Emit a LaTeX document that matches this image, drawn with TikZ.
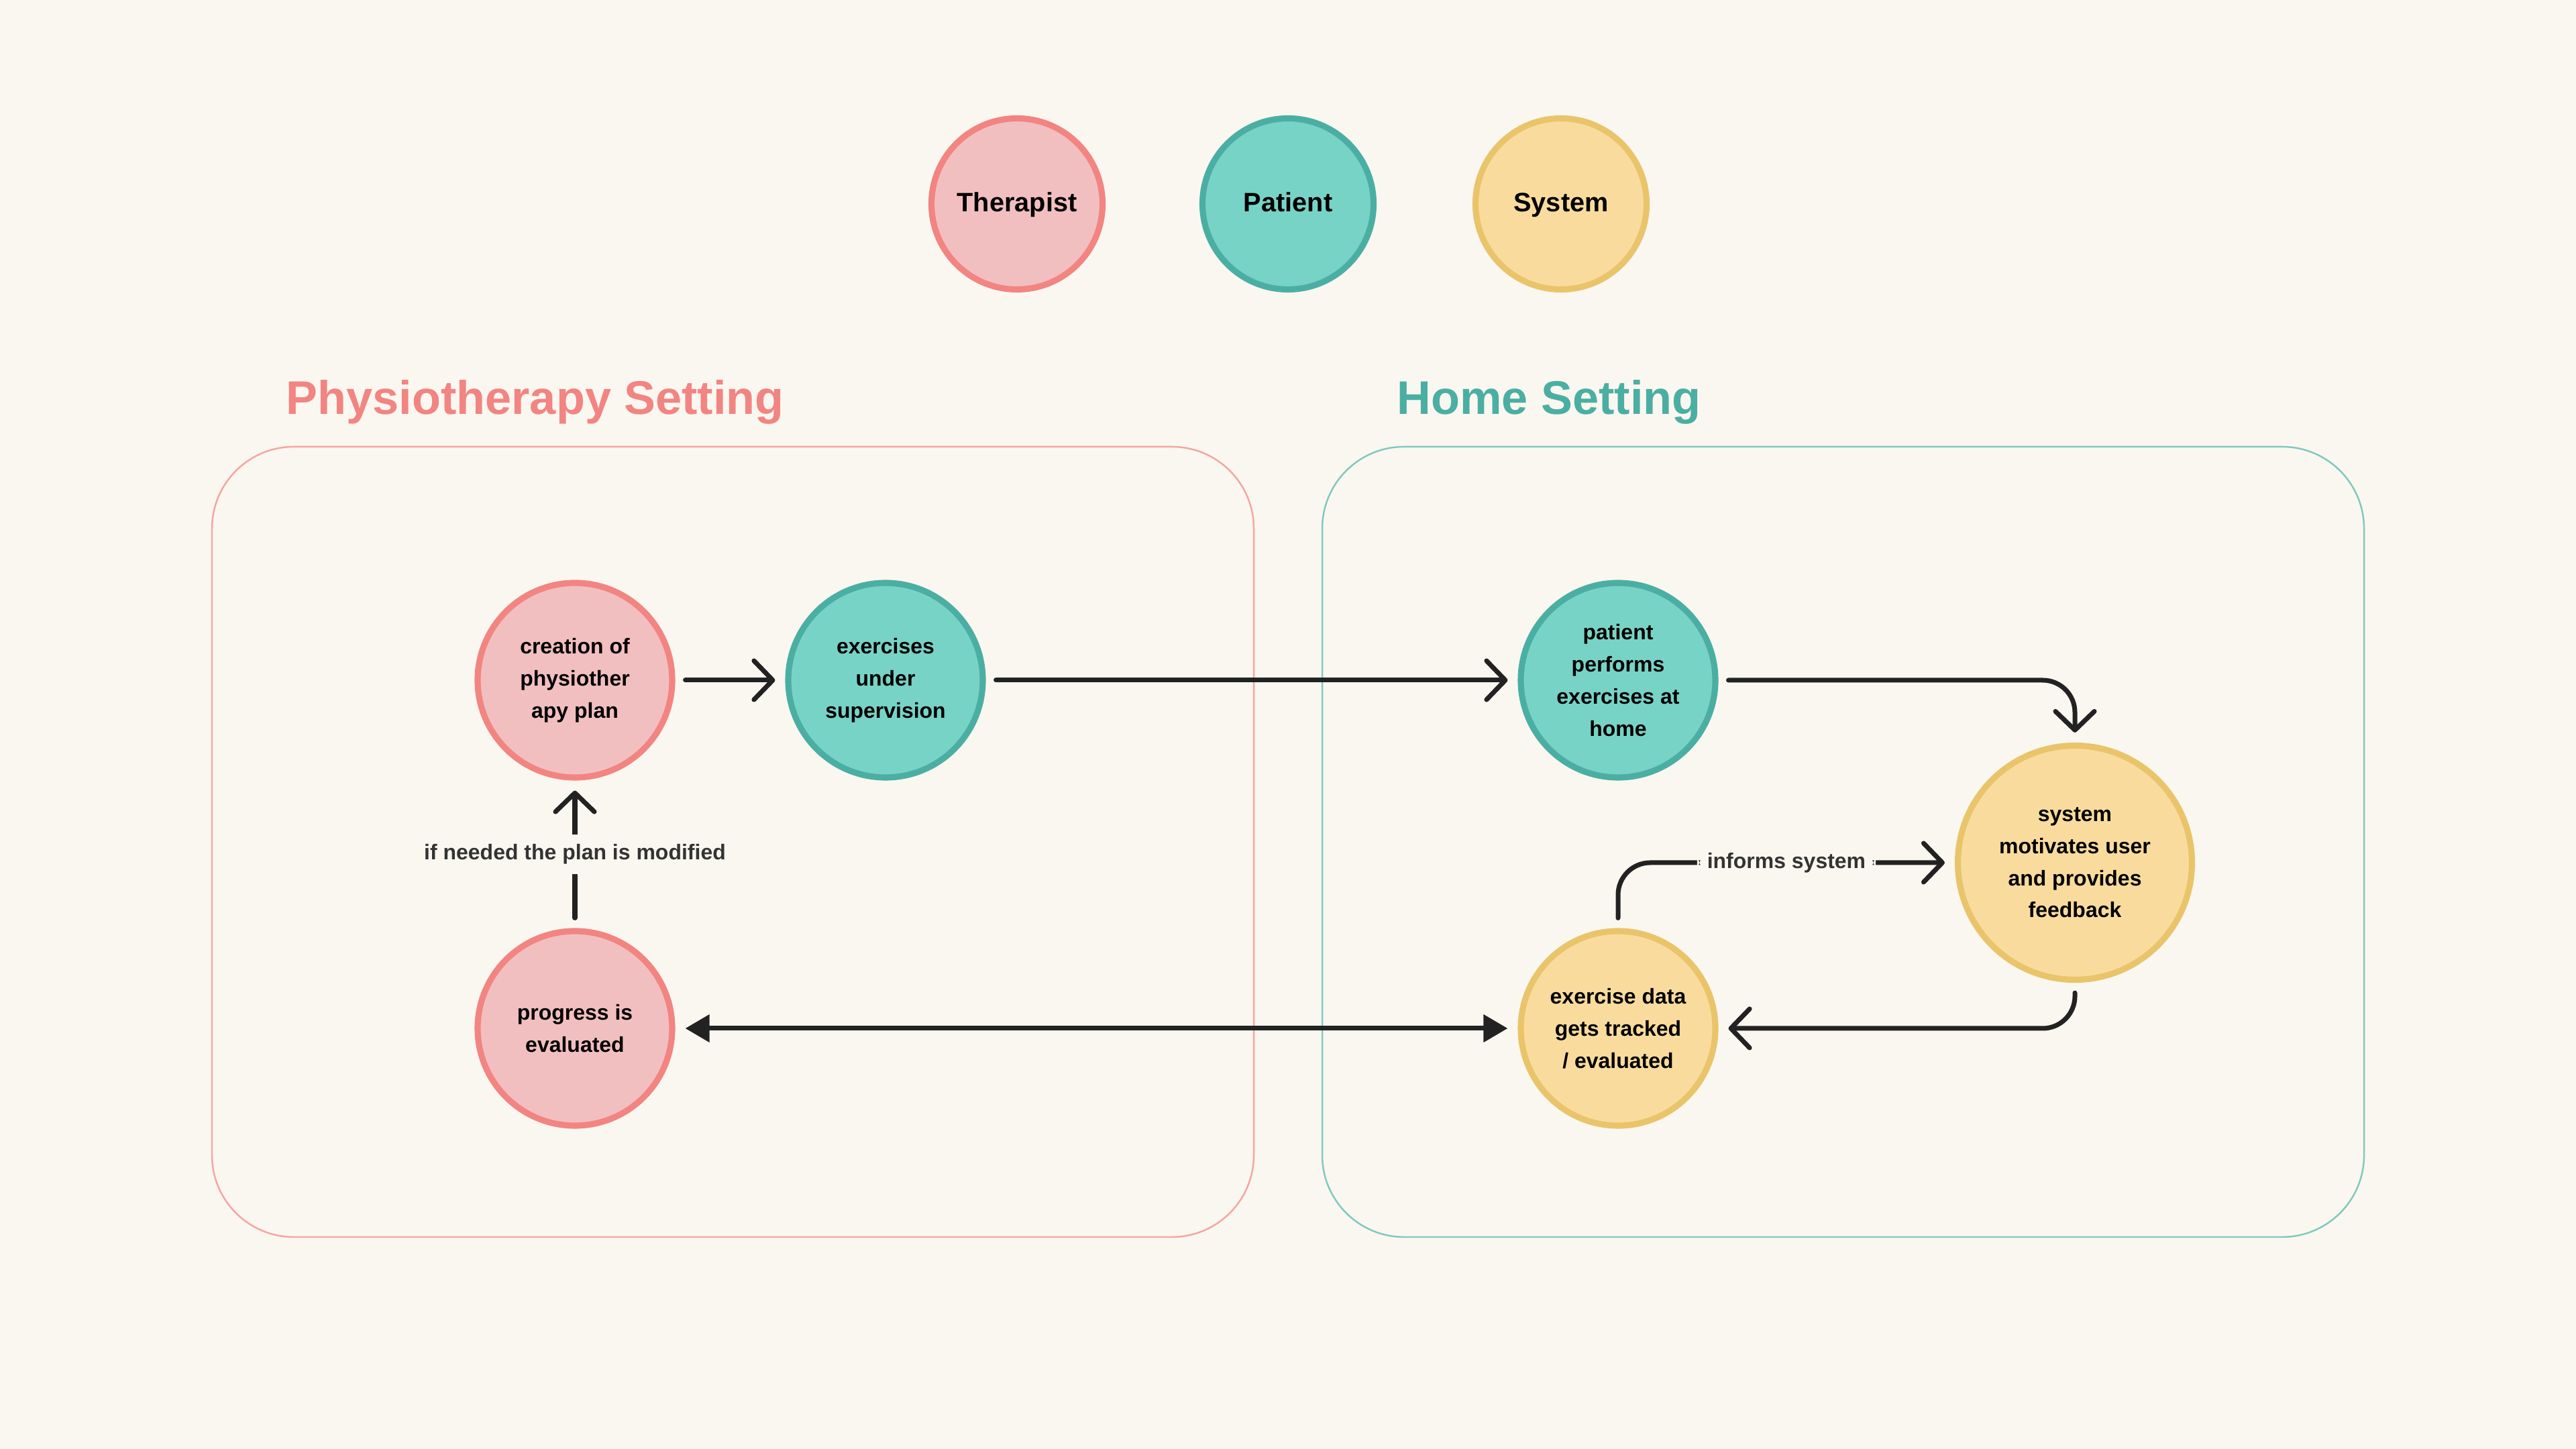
\documentclass[tikz,border=0pt]{standalone}
\usepackage{fontspec}
\setmainfont{Liberation Sans}
\usetikzlibrary{arrows.meta}

\definecolor{bgcol}{HTML}{FAF7F0}
\definecolor{therapistfill}{HTML}{F2BFC0}
\definecolor{therapistline}{HTML}{F28482}
\definecolor{therapistbox}{HTML}{F4A6A3}
\definecolor{patientfill}{HTML}{78D3C7}
\definecolor{patientline}{HTML}{4AAFA2}
\definecolor{patientbox}{HTML}{80C9BE}
\definecolor{systemfill}{HTML}{F9DC9D}
\definecolor{systemline}{HTML}{E9C46A}
\definecolor{linecol}{HTML}{222222}
\definecolor{notecol}{HTML}{333333}

\newcommand{\circfont}{\bfseries\fontsize{9.1}{13.6}\selectfont}

\tikzset{
  stepnode/.style={circle, line width=2.6pt, minimum size=2.9cm, inner sep=0pt, align=center, font=\circfont},
  therapist/.style={stepnode, draw=therapistline, fill=therapistfill},
  patient/.style={stepnode, draw=patientline, fill=patientfill},
  system/.style={stepnode, draw=systemline, fill=systemfill},
  legend/.style={minimum size=2.55cm, text height=0.72em, text depth=0.08em, font=\bfseries\fontsize{11.3}{13}\selectfont},
  title/.style={anchor=west, inner sep=0pt, font=\bfseries\fontsize{20}{24}\selectfont},
  setting/.style={line width=0.7pt, rounded corners=1.22cm},
  flow/.style={draw=linecol, line width=2pt, line cap=round, shorten >=0.15cm, shorten <=0.15cm},
  note/.style={fill=bgcol, inner sep=0.15cm, text=notecol, font=\bfseries\fontsize{9.1}{11}\selectfont}
}

\begin{document}
\begin{tikzpicture}[>={Straight Barb[length=0.28cm,width=0.58cm,round]}]
  \fill[bgcol] (0,0) rectangle (38.4,21.6);
  \useasboundingbox (0,0) rectangle (38.4,21.6);

  % legend
  \node[therapist, legend] (therapistkey) at (15.16, 18.56) {Therapist};
  \node[patient, legend] (patientkey) at (19.20, 18.56) {Patient};
  \node[system, legend] (systemkey) at (23.27, 18.56) {System};

  % the two settings
  \node[title, text=therapistline] (physiotitle) at (4.26, 15.60) {Physiotherapy Setting};
  \node[title, text=patientline] (hometitle) at (20.82, 15.60) {Home Setting};
  \draw[setting, draw=therapistbox] (3.16, 3.16) rectangle (18.69, 14.94);
  \draw[setting, draw=patientbox] (19.71, 3.16) rectangle (35.24, 14.94);

  % steps
  \node[therapist] (creation) at (8.57, 11.46) {creation of\\physiother\\apy plan};
  \node[patient] (supervised) at (13.20, 11.46) {exercises\\under\\supervision};
  \node[therapist] (progress) at (8.57, 6.27) {progress is\\evaluated};
  \node[patient] (athome) at (24.12, 11.46) {patient\\performs\\exercises at\\home};
  \node[system, minimum size=3.49cm] (motivate) at (30.93, 8.74) {system\\motivates user\\and provides\\feedback};
  \node[system] (tracked) at (24.12, 6.27) {exercise data\\gets tracked\\/ evaluated};

  % connectors
  \draw[flow, ->] (creation) -- (supervised);
  \draw[flow, ->] (supervised) -- (athome);
  \draw[flow, ->, rounded corners=0.48cm] (athome) -| (motivate);
  \draw[flow, ->, rounded corners=0.48cm] (motivate) |- (tracked);
  \draw[flow, ->, rounded corners=0.48cm] (tracked) |- node[note, pos=0.75] {informs system} (motivate);
  \draw[flow, {Triangle[length=0.36cm,width=0.4cm]}-{Triangle[length=0.36cm,width=0.4cm]}] (progress) -- (tracked);
  \draw[flow, ->] (progress) -- node[note] {if needed the plan is modified} (creation);
\end{tikzpicture}
\end{document}
